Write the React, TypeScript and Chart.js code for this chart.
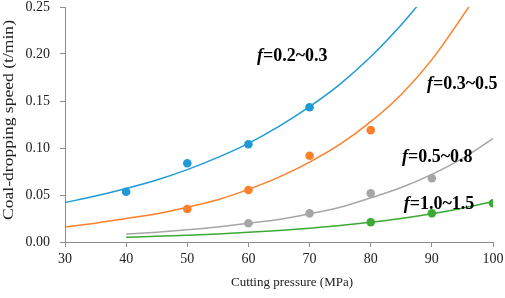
import React, { useEffect, useRef } from "react";
import { Chart, registerables } from "chart.js";

Chart.register(...registerables);

// Measured points (Cutting pressure MPa -> coal-dropping speed t/min)
const xBlue = [40, 50, 60, 70];
const yBlue = [0.0535, 0.0837, 0.104, 0.1433];
const xOrange = [50, 60, 70, 80];
const yOrange = [0.0351, 0.0553, 0.0918, 0.119];
const xGray = [60, 70, 80, 90];
const yGray = [0.0199, 0.0305, 0.0518, 0.0678];
const xGreen = [80, 90, 100];
const yGreen = [0.021, 0.0305, 0.0413];

// Trend curves
const tBlueX = [30, 35, 40, 45, 50, 55, 60, 65, 70, 75, 80, 85, 88];
const tBlueY = [0.042, 0.049, 0.057, 0.066, 0.077, 0.09, 0.105, 0.123, 0.144, 0.168, 0.197, 0.231, 0.254];
const tOrangeX = [30, 35, 40, 45, 50, 55, 60, 65, 70, 75, 80, 85, 90, 97];
const tOrangeY = [0.016, 0.02, 0.025, 0.03, 0.037, 0.045, 0.056, 0.069, 0.085, 0.104, 0.128, 0.157, 0.194, 0.259];
const tGrayX = [40, 45, 50, 55, 60, 65, 70, 75, 80, 85, 90, 95, 100];
const tGrayY = [0.0085, 0.0105, 0.013, 0.016, 0.02, 0.024, 0.03, 0.037, 0.047, 0.058, 0.072, 0.089, 0.11];
const tGreenX = [40, 45, 50, 55, 60, 65, 70, 75, 80, 85, 90, 95, 100];
const tGreenY = [0.005, 0.006, 0.0072, 0.0086, 0.0103, 0.0123, 0.0147, 0.0176, 0.021, 0.025, 0.03, 0.036, 0.043];

const seriesLabels = ["=0.2~0.3", "=0.3~0.5", "=0.5~0.8", "=1.0~1.5"];
const labelX = [61.4, 89.2, 85.1, 85.4];
const labelY = [0.197, 0.168, 0.09, 0.04];

const xTitle = "Cutting pressure (MPa)";
const yTitle = "Coal-dropping speed (t/min)";

const colors = ["#1f9ad6", "#ff7f2a", "#a6a6a6", "#3aaa35"];

const zip = (xs: number[], ys: number[]) => xs.map((x, i) => ({ x, y: ys[i] }));

const SERIF = "'Liberation Serif', 'Times New Roman', serif";

const overlayPlugin = {
  id: "overlay",
  afterDatasetsDraw(chart: any) {
    const ctx = chart.ctx;
    const xs = chart.scales.x;
    const ys = chart.scales.y;
    ctx.save();
    ctx.fillStyle = "#000";
    ctx.textBaseline = "middle";
    ctx.textAlign = "left";
    seriesLabels.forEach((t, i) => {
      const px = xs.getPixelForValue(labelX[i]);
      const py = ys.getPixelForValue(labelY[i]);
      ctx.font = `italic bold 18px ${SERIF}`;
      ctx.fillText("f", px, py);
      const w = ctx.measureText("f").width;
      ctx.font = `bold 18px ${SERIF}`;
      ctx.fillText(t, px + w, py);
    });
    // axis titles
    ctx.fillStyle = "#222";
    ctx.font = `13px ${SERIF}`;
    ctx.textAlign = "center";
    ctx.fillText(xTitle, 292, 283);
    ctx.save();
    ctx.translate(9, 120);
    ctx.rotate(-Math.PI / 2);
    ctx.font = `15px ${SERIF}`;
    const tw = ctx.measureText(yTitle).width;
    ctx.scale(200 / tw, 1);
    ctx.fillText(yTitle, 0, 0);
    ctx.restore();
    ctx.restore();
  },
};

export default function App() {
  const ref = useRef<HTMLCanvasElement | null>(null);
  useEffect(() => {
    if (!ref.current) return;
    const trend = (xs: number[], ys: number[], c: string) => ({
      type: "line" as const,
      data: zip(xs, ys),
      borderColor: c,
      borderWidth: 1.5,
      pointRadius: 0,
      showLine: true,
      cubicInterpolationMode: "monotone" as const,
      fill: false,
      order: 2,
    });
    const pts = (xs: number[], ys: number[], c: string) => ({
      type: "scatter" as const,
      data: zip(xs, ys),
      backgroundColor: c,
      borderColor: c,
      pointRadius: 4.3,
      pointBorderWidth: 0,
      showLine: false,
      order: 1,
    });
    const axisColor = "#8c8c8c";
    const chart = new Chart(ref.current, {
      type: "scatter",
      data: {
        datasets: [
          trend(tBlueX, tBlueY, colors[0]),
          trend(tOrangeX, tOrangeY, colors[1]),
          trend(tGrayX, tGrayY, colors[2]),
          trend(tGreenX, tGreenY, colors[3]),
          pts(xBlue, yBlue, colors[0]),
          pts(xOrange, yOrange, colors[1]),
          pts(xGray, yGray, colors[2]),
          pts(xGreen, yGreen, colors[3]),
        ] as any,
      },
      options: {
        animation: false,
        responsive: false,
        layout: { padding: { left: 0, right: 12, top: 7, bottom: 0 } },
        plugins: { legend: { display: false }, tooltip: { enabled: false } },
        scales: {
          x: {
            type: "linear",
            min: 30,
            max: 100,
            ticks: { stepSize: 10, color: "#222", font: { family: SERIF, size: 14 }, padding: 4 },
            grid: { drawOnChartArea: false, drawTicks: true, tickLength: 5, color: axisColor },
            border: { color: axisColor, width: 1 },
            afterFit: (s: any) => { s.height = 56; s.paddingLeft = 0; s.paddingRight = 0; },
          },
          y: {
            type: "linear",
            min: 0,
            max: 0.25,
            ticks: {
              stepSize: 0.05,
              color: "#222",
              font: { family: SERIF, size: 14 },
              padding: 10,
              callback: (v: any) => Number(v).toFixed(2),
            },
            grid: { drawOnChartArea: false, drawTicks: true, tickLength: 5, color: axisColor },
            border: { color: axisColor, width: 1 },
            afterFit: (s: any) => { s.width = 65; s.paddingTop = 0; s.paddingBottom = 0; },
          },
        },
      },
      plugins: [overlayPlugin],
    });
    return () => chart.destroy();
  }, []);
  return (
    <div style={{ position: "fixed", left: 0, top: 0, width: 505, height: 298, background: "#fff" }}>
      <canvas ref={ref} width={505} height={298} />
    </div>
  );
}
